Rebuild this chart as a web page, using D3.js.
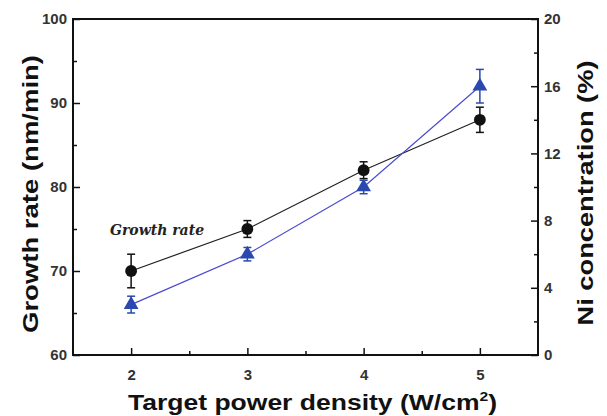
<!doctype html>
<html lang="en">
  <head>
    <meta charset="UTF-8" />
    <title>Growth rate and Ni concentration</title>
    <style>
      body {
        margin: 0;
        background: #fff;
      }
      svg {
        display: block;
      }
      .tick text {
        font: bold 15px "Liberation Sans", Arial, sans-serif;
        fill: #333;
      }
      .title {
        font: bold 22px "Liberation Sans", Arial, sans-serif;
        fill: #111;
      }
    </style>
  </head>
  <body>
    <script src="https://cdn.jsdelivr.net/npm/d3@7"></script>
    <script>
      // data
      const power = [2, 3, 4, 5];
      const growthRate = [70, 75, 82, 88];
      const growthErr = [2, 1, 1, 1.5];
      const niConc = [3, 6, 10, 16];
      const niErr = [0.5, 0.4, 0.4, 1];
      const xTicks = [2, 3, 4, 5];
      const leftTicks = [60, 70, 80, 90, 100];
      const rightTicks = [0, 4, 8, 12, 16, 20];

      const width = 607;
      const height = 416;
      const m = { left: 73, right: 69, top: 19, bottom: 61 };

      const svg = d3
        .select("body")
        .append("svg")
        .attr("width", width)
        .attr("height", height);

      const x = d3
        .scaleLinear()
        .domain([1.5, 5.5])
        .range([m.left, width - m.right]);
      const yL = d3
        .scaleLinear()
        .domain([60, 100])
        .range([height - m.bottom, m.top]);
      const yR = d3
        .scaleLinear()
        .domain([0, 20])
        .range([height - m.bottom, m.top]);

      // frame
      svg
        .append("rect")
        .attr("x", m.left)
        .attr("y", m.top)
        .attr("width", width - m.left - m.right)
        .attr("height", height - m.top - m.bottom)
        .attr("fill", "none")
        .attr("stroke", "#111")
        .attr("stroke-width", 2);

      function styleAxis(g) {
        g.select(".domain").remove();
        g.selectAll(".tick line").attr("stroke", "#111").attr("stroke-width", 1.5);
      }

      // minor ticks (inward, no labels)
      const minor = (scale, vals, orient, tx, len) => {
        svg
          .append("g")
          .attr("transform", tx)
          .call(orient(scale).tickValues(vals).tickSize(-len).tickFormat(""))
          .call(styleAxis);
      };

      svg
        .append("g")
        .attr("transform", `translate(0,${height - m.bottom})`)
        .call(
          d3.axisBottom(x).tickValues(xTicks).tickFormat(d3.format("d")).tickSize(-7).tickPadding(14),
        )
        .call(styleAxis);
      minor(x, [2.5, 3.5, 4.5], d3.axisBottom, `translate(0,${height - m.bottom})`, 4);

      svg
        .append("g")
        .attr("transform", `translate(${m.left},0)`)
        .call(d3.axisLeft(yL).tickValues(leftTicks).tickSize(-7).tickPadding(6))
        .call(styleAxis);
      minor(yL, [65, 75, 85, 95], d3.axisLeft, `translate(${m.left},0)`, 4);

      svg
        .append("g")
        .attr("transform", `translate(${width - m.right},0)`)
        .call(d3.axisRight(yR).tickValues(rightTicks).tickSize(-7).tickPadding(6))
        .call(styleAxis);
      minor(yR, [2, 6, 10, 14, 18], d3.axisRight, `translate(${width - m.right},0)`, 4);

      // series
      const drawSeries = (vals, errs, scale, color, symbol) => {
        const pts = power.map((p, i) => ({ x: p, y: vals[i], e: errs[i] }));
        svg
          .append("path")
          .datum(pts)
          .attr("fill", "none")
          .attr("stroke", color.line)
          .attr("stroke-width", 1.2)
          .attr("d", d3.line().x((d) => x(d.x)).y((d) => scale(d.y)));

        const eb = svg.append("g").attr("stroke", color.fill).attr("stroke-width", 1.5);
        pts.forEach((d) => {
          const cx = x(d.x);
          const y1 = scale(d.y + d.e);
          const y2 = scale(d.y - d.e);
          eb.append("line").attr("x1", cx).attr("x2", cx).attr("y1", y1).attr("y2", y2);
          eb.append("line").attr("x1", cx - 4).attr("x2", cx + 4).attr("y1", y1).attr("y2", y1);
          eb.append("line").attr("x1", cx - 4).attr("x2", cx + 4).attr("y1", y2).attr("y2", y2);
        });

        svg
          .append("g")
          .selectAll("path")
          .data(pts)
          .join("path")
          .attr("transform", (d) => `translate(${x(d.x)},${scale(d.y)})`)
          .attr("d", d3.symbol().type(symbol).size(symbol === d3.symbolTriangle ? 95 : 110))
          .attr("fill", color.fill);
      };

      drawSeries(growthRate, growthErr, yL, { line: "#222", fill: "#111" }, d3.symbolCircle);
      drawSeries(niConc, niErr, yR, { line: "#4a4ad0", fill: "#2a48b0" }, d3.symbolTriangle);

      // annotation
      svg
        .append("text")
        .attr("x", 110)
        .attr("y", 235)
        .attr("font-family", "'DejaVu Serif', 'Liberation Serif', serif")
        .attr("font-style", "italic")
        .attr("font-weight", "bold")
        .attr("font-size", 14)
        .attr("fill", "#222")
        .text("Growth rate");

      // titles
      const xt = svg
        .append("text")
        .attr("class", "title")
        .attr("x", 128)
        .attr("y", 410)
        .attr("textLength", 369)
        .attr("lengthAdjust", "spacingAndGlyphs");
      xt.append("tspan").text("Target power density (W/cm");
      xt.append("tspan").attr("dy", -9).attr("font-size", 13).text("2");
      xt.append("tspan").attr("dy", 9).text(")");

      svg
        .append("text")
        .attr("class", "title")
        .attr("transform", "translate(38,194) rotate(-90)")
        .attr("text-anchor", "middle")
        .attr("textLength", 278)
        .attr("lengthAdjust", "spacingAndGlyphs")
        .text("Growth rate (nm/min)");

      svg
        .append("text")
        .attr("class", "title")
        .attr("transform", "translate(593,193) rotate(-90)")
        .attr("text-anchor", "middle")
        .attr("textLength", 265)
        .attr("lengthAdjust", "spacingAndGlyphs")
        .text("Ni concentration (%)");
    </script>
  </body>
</html>
